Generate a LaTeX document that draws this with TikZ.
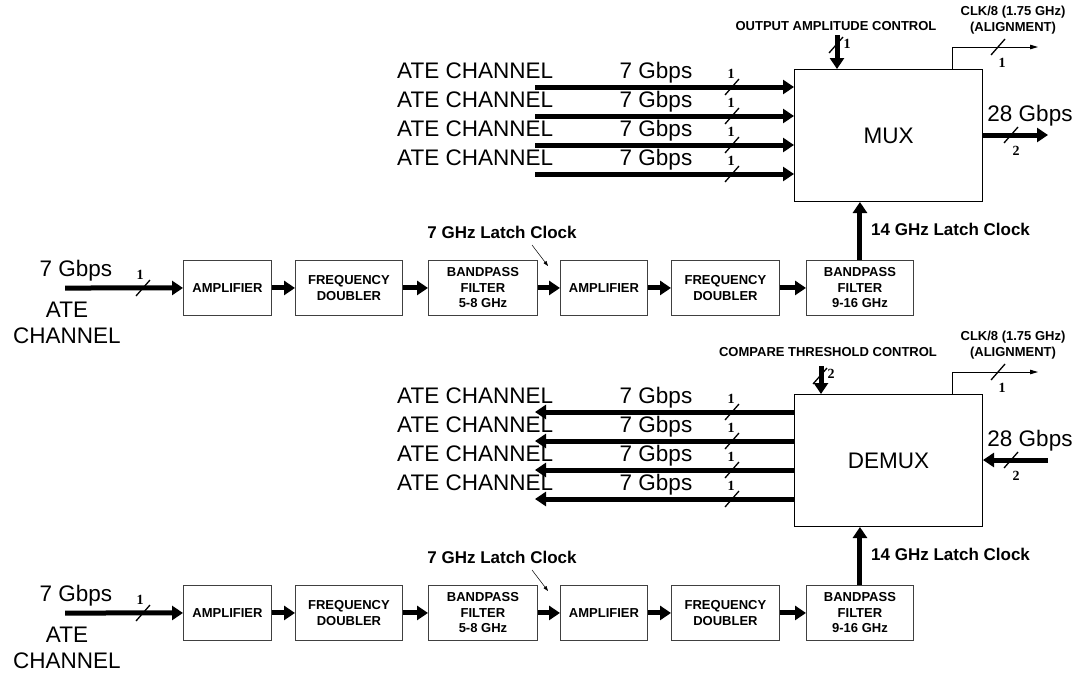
\documentclass[tikz,border=0pt]{standalone}
\usepackage{fontspec}
\setmainfont{Liberation Sans}
\newfontfamily\numfont{Liberation Serif}
\usetikzlibrary{arrows.meta}

\tikzset{bus/.pic={\draw[line width=1.3pt] (-7,8) -- (7,-8);}}

\begin{document}
\begin{tikzpicture}[x=1pt, y=-1pt, every node/.style={inner sep=0pt},
    big/.style={font=\fontsize{22.5}{24}\selectfont},
    sml/.style={font=\fontsize{13}{15.5}\selectfont\bfseries, align=center},
    lat/.style={font=\fontsize{17}{19}\selectfont\bfseries},
    num/.style={font=\numfont\fontsize{14}{15}\selectfont\bfseries},
    blk/.style={draw=black!75, line width=0.9pt, sml, anchor=north west, minimum height=55pt},
    mxbox/.style={draw, line width=1pt, big, anchor=north west, minimum width=188pt, minimum height=132pt},
    thk/.style={line width=5pt, -{Triangle[length=11pt,width=14pt]}},
    thn/.style={line width=0.9pt, -{Triangle[length=8pt,width=4.5pt]}},
    ptr/.style={line width=0.5pt, -{Triangle[length=5pt,width=3.5pt]}}]
  \useasboundingbox (0,0) rectangle (1081,673);

  % MUX and DEMUX
  \node[mxbox] (mxa) at (794,69) {MUX};
  \node[mxbox] (mxb) at (794,394) {DEMUX};

  % upper and lower halves
  \foreach \h/\dy in {a/0,b/325} {
    % clock chain
    \node[blk, minimum width=88pt] (amp1\h) at (183,260+\dy) {AMPLIFIER};
    \node[blk, minimum width=107pt] (dbl1\h) at (295,260+\dy) {FREQUENCY\\DOUBLER};
    \node[blk, minimum width=109pt] (bpf1\h) at (428,260+\dy) {BANDPASS\\FILTER\\5-8 GHz};
    \node[blk, minimum width=87pt] (amp2\h) at (560,260+\dy) {AMPLIFIER};
    \node[blk, minimum width=108pt] (dbl2\h) at (671,260+\dy) {FREQUENCY\\DOUBLER};
    \node[blk, minimum width=107pt] (bpf2\h) at (806,260+\dy) {BANDPASS\\FILTER\\9-16 GHz};
    \draw[thk] (amp1\h) -- (dbl1\h);
    \draw[thk] (dbl1\h) -- (bpf1\h);
    \draw[thk] (bpf1\h) -- (amp2\h);
    \draw[thk] (amp2\h) -- (dbl2\h);
    \draw[thk] (dbl2\h) -- (bpf2\h);
    % chain input
    \coordinate (in\h) at (65,288+\dy);
    \draw[thk] (in\h) -- (amp1\h);
    \pic at (143,288+\dy) {bus};
    \node[num] (ni\h) at (140,275+\dy) {1};
    \node[big, anchor=base] (gi\h) at (76,276+\dy) {7 Gbps};
    \node[big, anchor=base] (ai\h) at (67,317+\dy) {ATE};
    \node[big, anchor=base] (ci\h) at (67,343+\dy) {CHANNEL};
    % latch clocks
    \node[lat, anchor=base] (l7\h) at (502,238+\dy) {7 GHz Latch Clock};
    \coordinate (p1\h) at (532,245+\dy);
    \coordinate (p2\h) at (548,266+\dy);
    \draw[ptr] (p1\h) -- (p2\h);
    \node[lat, anchor=base west] (l14\h) at (871,235+\dy) {14 GHz Latch Clock};
    \draw[thk] (bpf2\h) -- (bpf2\h.north |- mx\h.south);
    % channel rows
    \foreach \r/\ry in {1/87,2/116,3/145,4/174} {
      \coordinate (ch\h\r) at (535,\ry+\dy);
      \node[big, anchor=base west] (at\h\r) at (397,\ry-9+\dy) {ATE CHANNEL};
      \node[big, anchor=base] (gb\h\r) at (656,\ry-9+\dy) {7 Gbps};
      \pic at (732,\ry+\dy) {bus};
      \node[num] (nr\h\r) at (731,\ry-13+\dy) {1};
    }
    % CLK/8 alignment output
    \coordinate (ck\h) at (952,47+\dy);
    \coordinate (ce\h) at (1038,47+\dy);
    \draw[thn] (ck\h |- mx\h.north) -- (ck\h) -- (ce\h);
    \pic at (998,47+\dy) {bus};
    \node[num] (nk\h) at (1002,63+\dy) {1};
    \node[sml] (cl\h) at (1013,20+\dy) {CLK/8 (1.75 GHz)\\(ALIGNMENT)};
    % 28 Gbps side
    \node[big, anchor=base] (hg\h) at (1030,121+\dy) {28 Gbps};
    \coordinate (hs\h) at (1048,135+\dy);
    \pic at (1011,135+\dy) {bus};
    \node[num] (nh\h) at (1016,151+\dy) {2};
  }

  % MUX: channels in, 28 Gbps out
  \foreach \r in {1,...,4} \draw[thk] (cha\r) -- (cha\r -| mxa.west);
  \draw[thk] (mxa.east |- hsa) -- (hsa);
  % DEMUX: 28 Gbps in, channels out
  \foreach \r in {1,...,4} \draw[thk] (chb\r -| mxb.west) -- (chb\r);
  \draw[thk] (hsb) -- (mxb.east |- hsb);

  % controls
  \node[sml] (oac) at (836,26) {OUTPUT AMPLITUDE CONTROL};
  \coordinate (ca) at (837,35);
  \draw[thk] (ca) -- (ca |- mxa.north);
  \pic at (836,45) {bus};
  \node[num] (nca) at (847,44) {1};
  \node[sml] (ctc) at (828,352) {COMPARE THRESHOLD CONTROL};
  \coordinate (cb) at (821,366);
  \draw[thk] (cb) -- (cb |- mxb.north);
  \pic at (820,376) {bus};
  \node[num] (ncb) at (831,374) {2};
\end{tikzpicture}
\end{document}
